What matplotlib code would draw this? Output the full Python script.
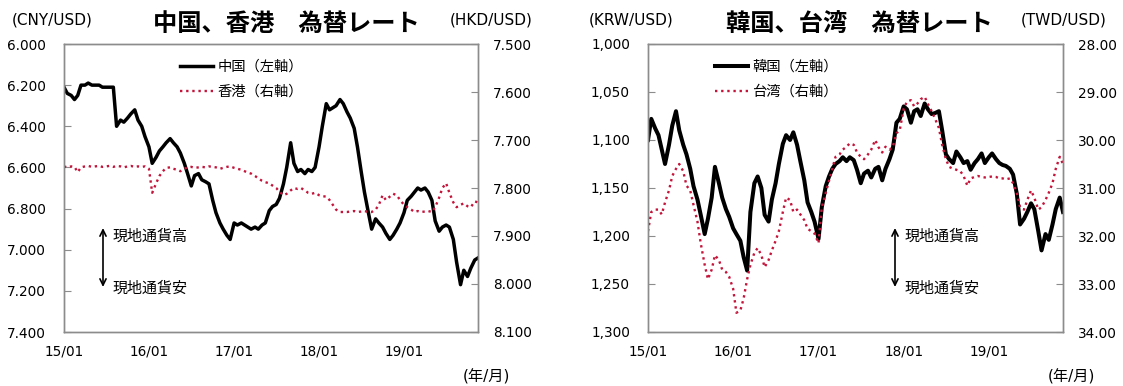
import matplotlib
matplotlib.use("Agg")
import matplotlib.pyplot as plt
import matplotlib.dates as mdates
from matplotlib.ticker import FixedLocator, FuncFormatter
import pandas as pd
import numpy as np

plt.rcParams['font.family'] = ['DejaVu Sans', 'Noto Sans CJK JP']

# semi-monthly observation dates (1st and 15th), Jan 2015 - Nov 2019
dates = pd.date_range(start='2015-01-01', periods=118, freq='SMS')

cny = [6.21, 6.24, 6.25, 6.27, 6.25, 6.20, 6.20, 6.19, 6.20, 6.20, 6.20, 6.21,
       6.21, 6.21, 6.21, 6.40, 6.37, 6.38, 6.36, 6.34, 6.32, 6.37, 6.40, 6.45,
       6.50, 6.58, 6.55, 6.52, 6.50, 6.48, 6.46, 6.48, 6.50, 6.53, 6.58, 6.63,
       6.69, 6.64, 6.63, 6.66, 6.67, 6.68, 6.76, 6.82, 6.87, 6.90, 6.93, 6.95,
       6.87, 6.88, 6.87, 6.88, 6.89, 6.90, 6.89, 6.90, 6.88, 6.87, 6.81, 6.79,
       6.78, 6.75, 6.68, 6.60, 6.48, 6.58, 6.62, 6.61, 6.63, 6.61, 6.62, 6.60,
       6.50, 6.40, 6.29, 6.32, 6.31, 6.30, 6.27, 6.29, 6.33, 6.36, 6.41, 6.50,
       6.62, 6.72, 6.82, 6.90, 6.85, 6.87, 6.89, 6.92, 6.95, 6.93, 6.90, 6.87,
       6.82, 6.76, 6.74, 6.72, 6.70, 6.71, 6.70, 6.72, 6.76, 6.86, 6.91, 6.89,
       6.88, 6.89, 6.95, 7.06, 7.17, 7.10, 7.13, 7.09, 7.05, 7.04]

hkd = [7.755, 7.757, 7.755, 7.756, 7.767, 7.757, 7.755, 7.754, 7.756, 7.755,
       7.754, 7.756, 7.755, 7.754, 7.756, 7.754, 7.755, 7.757, 7.755, 7.754,
       7.756, 7.755, 7.756, 7.755, 7.760, 7.810, 7.790, 7.775, 7.765, 7.758,
       7.757, 7.760, 7.762, 7.765, 7.760, 7.757, 7.756, 7.758, 7.757, 7.756,
       7.757, 7.755, 7.756, 7.757, 7.760, 7.758, 7.756, 7.755, 7.758, 7.760,
       7.762, 7.765, 7.768, 7.770, 7.775, 7.780, 7.785, 7.788, 7.790, 7.795,
       7.800, 7.808, 7.815, 7.812, 7.805, 7.800, 7.802, 7.800, 7.805, 7.810,
       7.812, 7.810, 7.815, 7.817, 7.818, 7.825, 7.835, 7.845, 7.850, 7.850,
       7.850, 7.849, 7.848, 7.850, 7.849, 7.848, 7.850, 7.850, 7.845, 7.835,
       7.815, 7.825, 7.818, 7.812, 7.815, 7.825, 7.835, 7.840, 7.845, 7.850,
       7.848, 7.850, 7.849, 7.848, 7.850, 7.840, 7.820, 7.800, 7.790, 7.810,
       7.830, 7.840, 7.835, 7.832, 7.838, 7.840, 7.828, 7.830]

krw = [1100, 1078, 1088, 1095, 1110, 1125, 1105, 1085, 1070, 1090, 1105, 1115,
       1130, 1148, 1162, 1178, 1198, 1182, 1160, 1128, 1145, 1160, 1172, 1180,
       1192, 1198, 1205, 1222, 1236, 1175, 1145, 1138, 1150, 1178, 1185, 1162,
       1145, 1125, 1104, 1095, 1100, 1092, 1105, 1122, 1142, 1165, 1175, 1185,
       1203, 1170, 1148, 1138, 1130, 1125, 1122, 1118, 1122, 1118, 1121, 1131,
       1145, 1135, 1132, 1139, 1130, 1128, 1142, 1130, 1120, 1110, 1082, 1078,
       1065, 1068, 1082, 1070, 1068, 1075, 1062, 1068, 1073, 1072, 1070, 1090,
       1115, 1120, 1124, 1112, 1118, 1124, 1122, 1131, 1124, 1120, 1114, 1124,
       1118, 1114, 1120, 1124, 1126, 1127, 1130, 1136, 1156, 1188, 1182, 1175,
       1166, 1172, 1195, 1215, 1198, 1204, 1188, 1172, 1160, 1175]

twd = [31.90, 31.50, 31.45, 31.45, 31.55, 31.30, 31.05, 30.75, 30.60, 30.50,
       30.65, 30.95, 31.05, 31.35, 31.70, 32.15, 32.60, 32.90, 32.70, 32.40,
       32.50, 32.70, 32.75, 32.85, 33.10, 33.60, 33.55, 33.30, 32.90, 32.60,
       32.35, 32.25, 32.40, 32.65, 32.50, 32.30, 32.10, 31.90, 31.50, 31.20,
       31.25, 31.50, 31.45, 31.55, 31.67, 31.85, 31.90, 31.95, 32.15, 31.40,
       31.10, 30.85, 30.60, 30.35, 30.30, 30.20, 30.14, 30.07, 30.10, 30.26,
       30.35, 30.40, 30.30, 30.20, 30.00, 30.15, 30.26, 30.14, 30.20, 30.15,
       29.86, 29.80, 29.35, 29.20, 29.17, 29.30, 29.24, 29.15, 29.10, 29.25,
       29.40, 29.55, 29.75, 30.10, 30.40, 30.56, 30.60, 30.62, 30.65, 30.75,
       30.95, 30.80, 30.77, 30.75, 30.77, 30.78, 30.77, 30.76, 30.77, 30.80,
       30.80, 30.82, 30.80, 30.90, 31.10, 31.40, 31.45, 31.25, 31.05, 31.20,
       31.45, 31.40, 31.25, 31.10, 30.90, 30.60, 30.35, 30.50]

xtick_dates = ['2015-01-01', '2016-01-01', '2017-01-01', '2018-01-01', '2019-01-01']

RED = '#c4143a'
GRAY = '#8c8c8c'
W, H = 1123, 386

fig = plt.figure(figsize=(W / 100, H / 100), dpi=100)


def fx(px):
    return px / W


def fy(py):
    return 1 - py / H


def make_panel(x0, x1, left_vals, right_vals, lylim, lticks, lfmt, rylim, rticks, rfmt,
               lab_left, lab_right, title, units_l, units_r, unit_lx, unit_rx, title_x,
               leg_x, arrow_x, lw_left):
    ax = fig.add_axes([fx(x0), fy(332), fx(x1 - x0), (332 - 44) / H])
    ax2 = ax.twinx()
    ax.plot(dates, left_vals, color='black', lw=lw_left, solid_joinstyle='round', zorder=2,
            label=lab_left)
    ax2.plot(dates, right_vals, color=RED, lw=1.7, linestyle=(0, (1, 1.6)),
             label=lab_right)
    ax.set_xlim(pd.Timestamp('2015-01-01'), pd.Timestamp('2019-11-15'))
    ax.set_ylim(*lylim)
    ax2.set_ylim(*rylim)
    ax.yaxis.set_major_locator(FixedLocator(lticks))
    ax2.yaxis.set_major_locator(FixedLocator(rticks))
    ax.yaxis.set_major_formatter(FuncFormatter(lfmt))
    ax2.yaxis.set_major_formatter(FuncFormatter(rfmt))
    ax.xaxis.set_major_locator(FixedLocator(mdates.date2num(pd.to_datetime(xtick_dates))))
    ax.xaxis.set_major_formatter(mdates.DateFormatter('%y/%m'))
    for a in (ax, ax2):
        for s in a.spines.values():
            s.set_color(GRAY)
            s.set_linewidth(1.0)
    ax.tick_params(axis='y', direction='in', length=5, color=GRAY, pad=13, labelsize=9.8)
    ax2.tick_params(axis='y', direction='in', length=5, color=GRAY, pad=11, labelsize=9.8)
    ax.tick_params(axis='x', length=0, pad=9, labelsize=9.8)
    h1, l1 = ax.get_legend_handles_labels()
    h2, l2 = ax2.get_legend_handles_labels()
    ax2.legend(h1 + h2, l1 + l2, loc='upper left',
               bbox_to_anchor=((leg_x - x0) / (x1 - x0), 0.945),
               frameon=False, fontsize=10.3, handlelength=2.3, handletextpad=0.3,
               borderpad=0, borderaxespad=0, labelspacing=0.75)

    def ay(py):
        return 1 - (py - 44) / 288
    axf = (arrow_x - x0) / (x1 - x0)
    ax2.annotate('', xy=(axf, ay(228)), xytext=(axf, ay(287)), xycoords='axes fraction',
                 arrowprops=dict(arrowstyle='<->,head_length=0.45,head_width=0.22',
                                 color='black', lw=1.2, shrinkA=0, shrinkB=0))
    tx = (arrow_x + 10 - x0) / (x1 - x0)
    ax2.text(tx, ay(236), '現地通貨高', transform=ax2.transAxes, fontsize=10.8,
             va='center', ha='left')
    ax2.text(tx, ay(288), '現地通貨安', transform=ax2.transAxes, fontsize=10.8,
             va='center', ha='left')
    fig.text(fx(unit_lx), fy(20), units_l, ha='center', va='center', fontsize=11)
    fig.text(fx(unit_rx), fy(20), units_r, ha='center', va='center', fontsize=11)
    fig.text(fx(title_x), fy(24), title, ha='center', va='center', fontsize=17.5,
             fontweight='bold')
    fig.text(fx(x1 + 8), fy(377), '(年/月)', ha='center', va='center', fontsize=11)
    return ax, ax2


make_panel(64, 478, cny, hkd, (7.4, 6.0), np.arange(6.0, 7.401, 0.2),
           lambda v, p: f'{v:.3f}', (8.1, 7.5), np.arange(7.5, 8.101, 0.1),
           lambda v, p: f'{v:.3f}', '中国（左軸）', '香港（右軸）',
           '中国、香港　為替レート', '(CNY/USD)', '(HKD/USD)', 52, 491, 286, 180, 103, 2.5)

make_panel(648, 1063, krw, twd, (1300, 1000), np.arange(1000, 1301, 50),
           lambda v, p: f'{v:,.0f}', (34, 28), np.arange(28, 34.01, 1),
           lambda v, p: f'{v:.2f}', '韓国（左軸）', '台湾（右軸）',
           '韓国、台湾　為替レート', '(KRW/USD)', '(TWD/USD)', 631, 1064, 859, 715, 895, 2.9)

fig.savefig('out.png', dpi=100)
